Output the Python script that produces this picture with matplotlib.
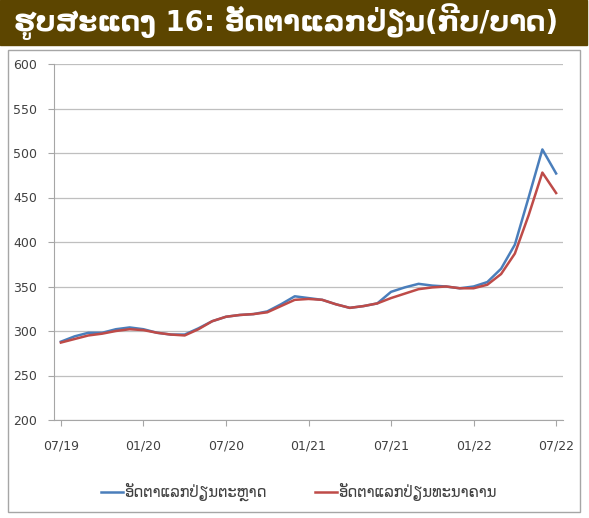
import matplotlib
matplotlib.use("Agg")
import matplotlib.pyplot as plt
from matplotlib.patches import Rectangle

# monthly values, 07/19 .. 07/22
months = ["07/19", "08/19", "09/19", "10/19", "11/19", "12/19",
          "01/20", "02/20", "03/20", "04/20", "05/20", "06/20",
          "07/20", "08/20", "09/20", "10/20", "11/20", "12/20",
          "01/21", "02/21", "03/21", "04/21", "05/21", "06/21",
          "07/21", "08/21", "09/21", "10/21", "11/21", "12/21",
          "01/22", "02/22", "03/22", "04/22", "05/22", "06/22",
          "07/22"]
market_rate = [288, 294, 298, 298, 302, 304, 302, 298, 296, 296, 303, 311,
               316, 318, 319, 322, 330, 339, 337, 335, 330, 326, 328, 331,
               344, 349, 353, 351, 350, 348, 350, 355, 370, 397, 450, 504,
               477]
bank_rate = [287, 291, 295, 297, 300, 302, 301, 298, 296, 295, 302, 311,
             316, 318, 319, 321, 328, 335, 336, 335, 330, 326, 328, 331,
             337, 342, 347, 349, 350, 348, 348, 352, 364, 387, 430, 478,
             455]
tick_labels = ["07/19", "01/20", "07/20", "01/21", "07/21", "01/22", "07/22"]
y_ticks = [200, 250, 300, 350, 400, 450, 500, 550, 600]

title = "ຮູບສະແດງ 16: ອັດຕາແລກປ່ຽນ(ກີບ/ບາດ)"
legend_labels = ["ອັດຕາແລກປ່ຽນຕະຫຼາດ", "ອັດຕາແລກປ່ຽນທະນາຄານ"]

plt.rcParams["font.family"] = ["DejaVu Sans"]

fig = plt.figure(figsize=(5.89, 5.18), dpi=100)

# title banner
fig.patches.append(Rectangle((0, 1 - 45 / 518), 587 / 589, 45 / 518,
                             transform=fig.transFigure, color="#5C4500",
                             zorder=0))
fig.text(14 / 589, 1 - 22 / 518, title, color="white", fontsize=19.8,
         fontweight="bold", va="center", ha="left")

# chart frame
fig.patches.append(Rectangle((8 / 589, 1 - 512 / 518), 572 / 589, 462 / 518,
                             transform=fig.transFigure, fill=False,
                             edgecolor="#A6A6A6", lw=1.0, zorder=0))

ax = fig.add_axes([54 / 589, 1 - 420 / 518, 509 / 589, 356 / 518])
x = list(range(len(months)))
ax.plot(x, market_rate, color="#4A7EBB", lw=1.8, label=legend_labels[0])
ax.plot(x, bank_rate, color="#BE4B48", lw=1.8, label=legend_labels[1])

ax.set_xlim(-0.5, len(months) - 0.5)
ax.set_ylim(200, 600)
ax.set_yticks(y_ticks)
ax.set_xticks([months.index(t) for t in tick_labels])
ax.set_xticklabels(tick_labels)

ax.grid(axis="y", color="#BFBFBF", lw=0.9)
ax.set_axisbelow(True)
for s in ["top", "right"]:
    ax.spines[s].set_visible(False)
for s in ["left", "bottom"]:
    ax.spines[s].set_color("#A6A6A6")
ax.tick_params(axis="y", length=4, color="#A6A6A6", labelsize=9,
               labelcolor="#404040", pad=8)
ax.tick_params(axis="x", length=4, color="#A6A6A6", labelsize=9,
               labelcolor="#404040", pad=10)

fig.legend(loc="center", bbox_to_anchor=(0.507, 1 - 492 / 518), ncol=2,
           frameon=False, fontsize=10.5, handlelength=1.5, handletextpad=0.1,
           columnspacing=3.3, labelcolor="#404040")

fig.savefig("out.png", dpi=100)
